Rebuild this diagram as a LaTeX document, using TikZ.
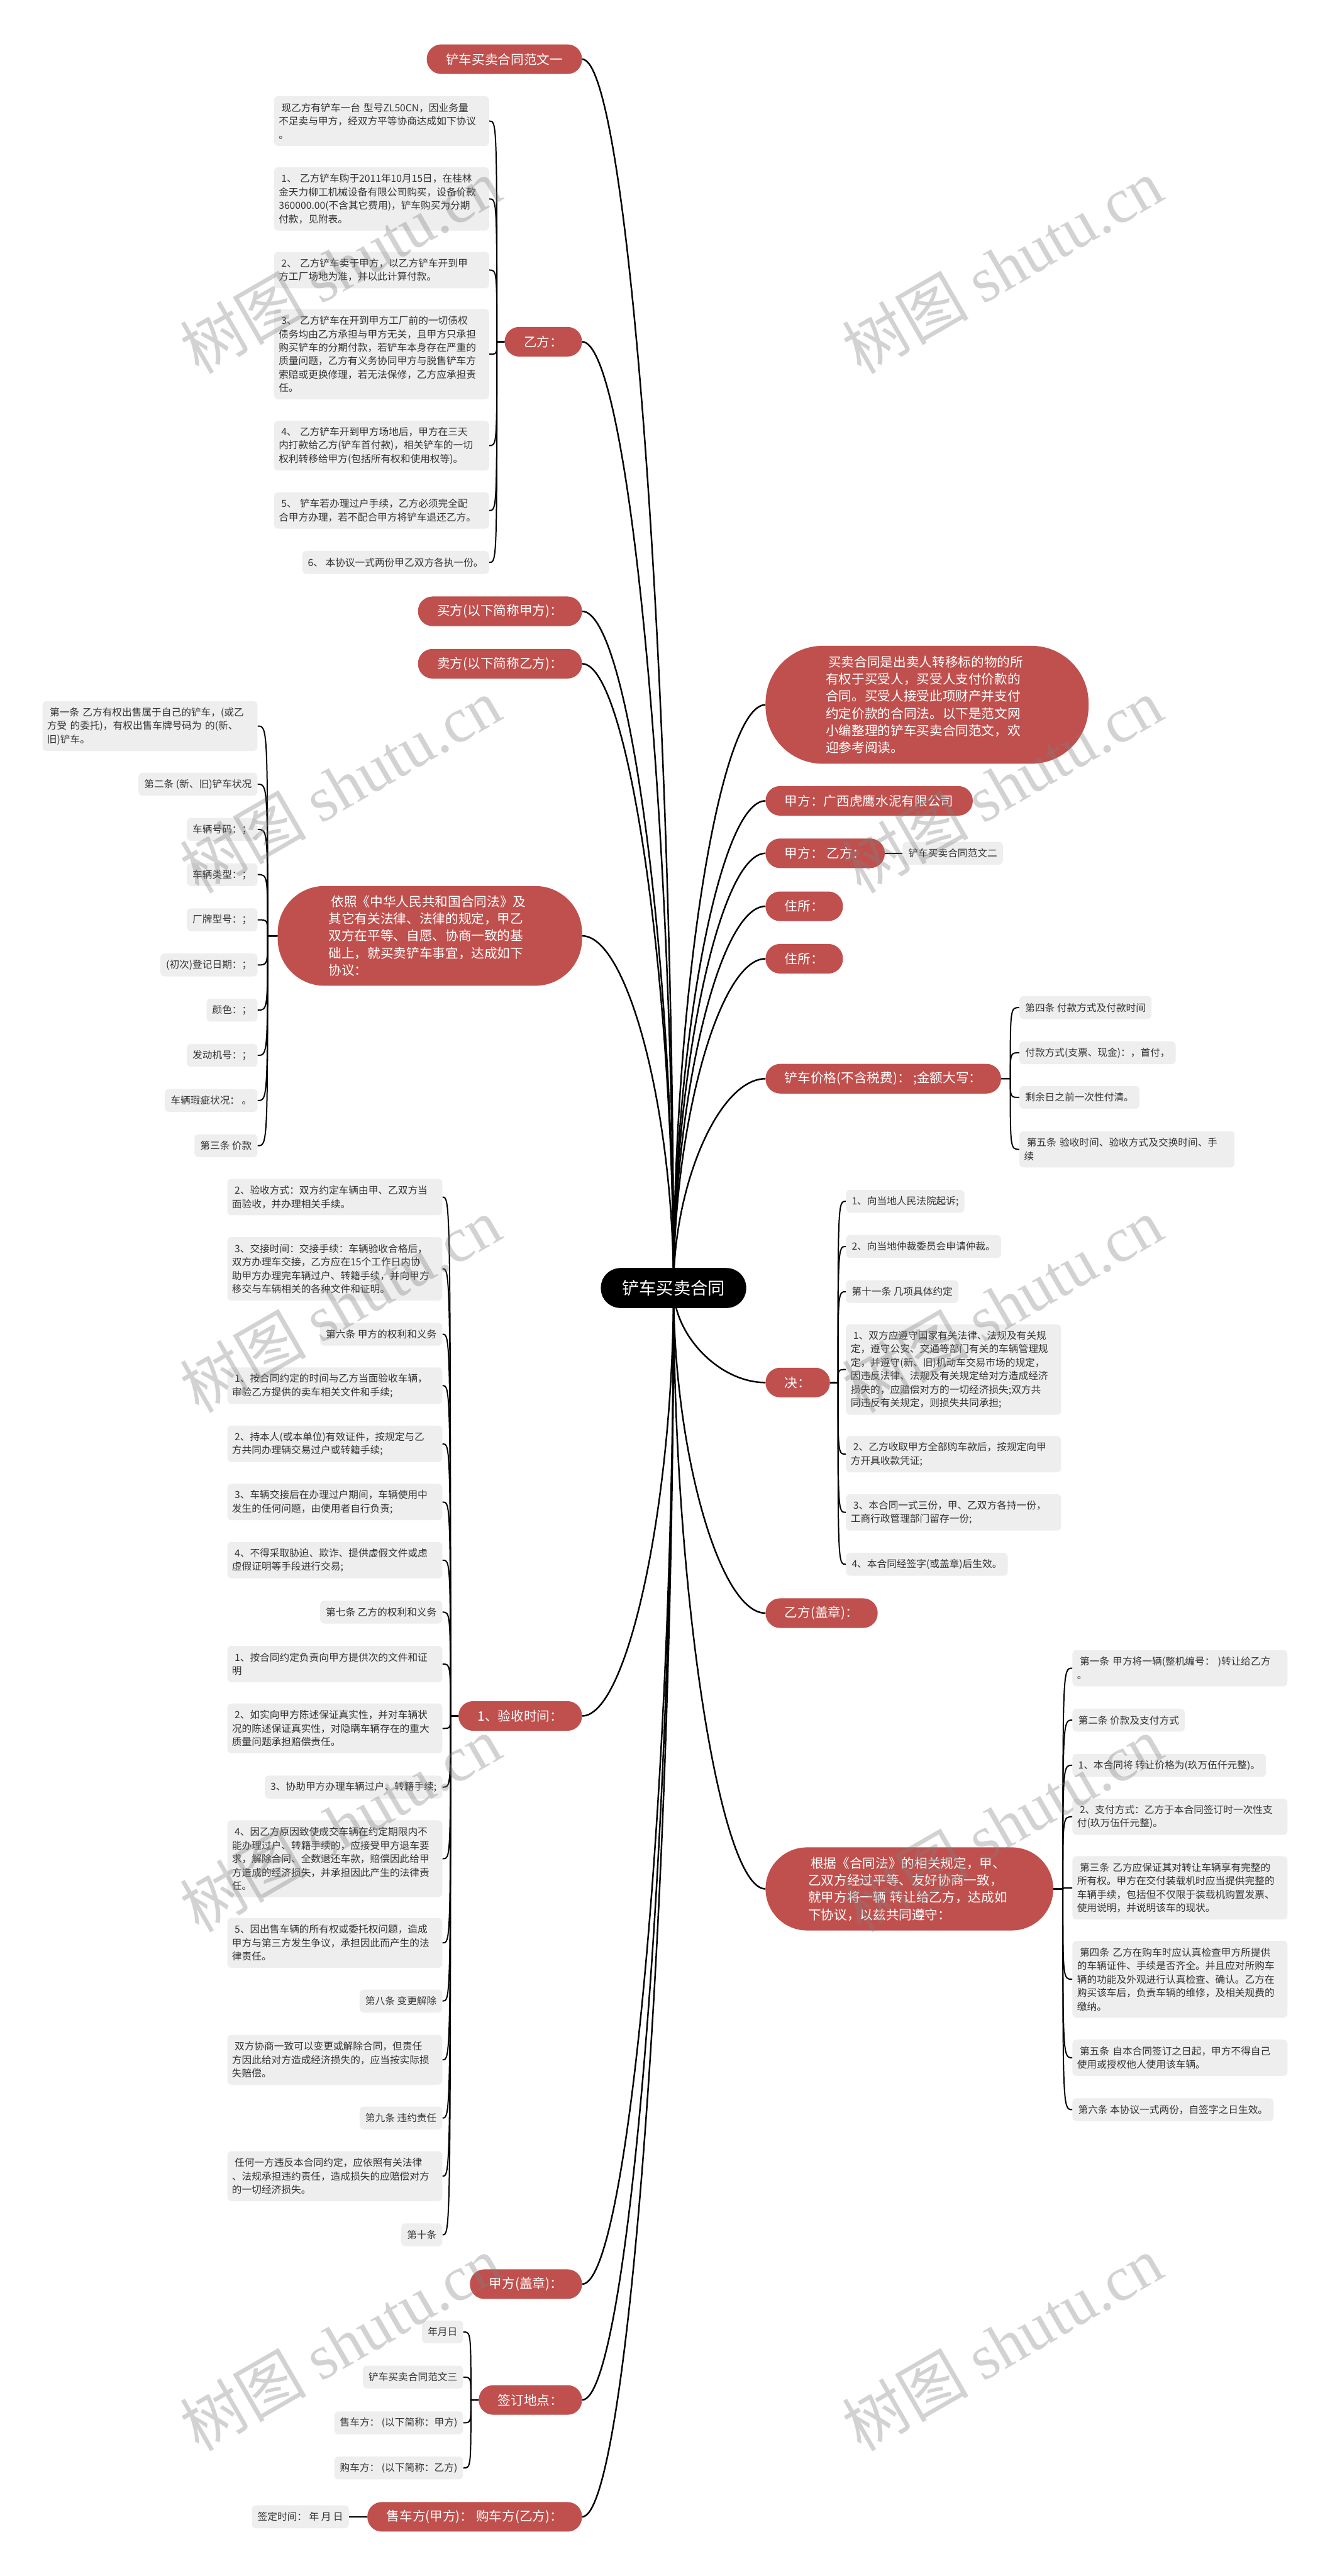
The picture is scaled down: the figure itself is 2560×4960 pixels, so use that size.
\documentclass[tikz,border=0pt]{standalone}
\usepackage{fontspec}
\setmainfont{Noto Sans CJK SC}
\newfontfamily\wmlatin{Liberation Serif}
\usetikzlibrary{calc,backgrounds}
\definecolor{redc}{HTML}{C0504D}
\definecolor{grayc}{HTML}{EEEEEE}
\definecolor{txtc}{HTML}{333333}
\newcommand\myind{\hspace*{5pt}}
\newcommand\rootlink[1]{\draw[rlink] (root.center) .. controls ($(root.center)!0.5!(root.center |- #1)$) and ($(#1)!0.5!(root.center |- #1)$) .. (#1);}
\newcommand\kidl[2]{\coordinate (tmpj) at ($(#1.west)!0.5!(#2.east |- #1.west)$);\draw[clink] (#1.west) -- (tmpj) .. controls (tmpj |- #2.east) .. (#2.east);}
\newcommand\kidr[2]{\coordinate (tmpj) at ($(#1.east)!0.5!(#2.west |- #1.east)$);\draw[clink] (#1.east) -- (tmpj) .. controls (tmpj |- #2.west) .. (#2.west);}
\tikzset{
 rootbox/.style={fill=black,text=white,rounded corners=38pt,minimum width=280pt,minimum height=77pt,inner sep=0pt,font=\fontsize{33}{40}\selectfont},
 rpill/.style={fill=redc,text=white,rounded corners=28pt,minimum height=57pt,inner xsep=37pt,inner ysep=0pt,font=\fontsize{25}{33}\selectfont},
 rbig/.style={rpill,align=left,text width=390pt},
 gbox/.style={fill=grayc,text=txtc,rounded corners=8pt,minimum height=44pt,inner xsep=11pt,inner ysep=0pt,font=\fontsize{19}{26}\selectfont,align=left},
 gwide/.style={gbox,text width=396pt,inner xsep=9pt},
 ln2/.style={minimum height=70pt},
 ln3/.style={minimum height=96pt},
 ln4/.style={minimum height=122pt},
 ln5/.style={minimum height=148pt},
 ln6/.style={minimum height=174pt},
 rlink/.style={draw=black,line width=3pt},
 clink/.style={draw=black,line width=2.4pt},
 wm/.style={text=black!50,text opacity=0.35,font=\fontsize{122}{130}\selectfont,rotate=30,inner sep=0pt},
}
\begin{document}
\begin{tikzpicture}[x=1pt,y=1pt]
\useasboundingbox (0,0) rectangle (2560,-4960);
% root
\node[rootbox] (root) at (1297,-2480) {铲车买卖合同};
% left first level
\node[rpill,anchor=east] (fw1) at (1121,-114) {铲车买卖合同范文一};
\node[rpill,anchor=east] (yf) at (1121,-658) {乙方：};
\node[rpill,anchor=east] (mf) at (1121,-1177) {买方(以下简称甲方)：};
\node[rpill,anchor=east] (sf) at (1121,-1278) {卖方(以下简称乙方)：};
\node[rbig,anchor=east,rounded corners=90pt,minimum height=192pt,inner xsep=98pt] (yz) at (1121,-1802) {\myind 依照《中华人民共和国合同法》及\\其它有关法律、法律的规定，甲乙\\双方在平等、自愿、协商一致的基\\础上，就买卖铲车事宜，达成如下\\协议：};
\node[rpill,anchor=east] (ys) at (1121,-3304) {1、验收时间：};
\node[rpill,anchor=east] (jg) at (1121,-4398) {甲方(盖章)：};
\node[rpill,anchor=east] (qd) at (1121,-4621) {签订地点：};
\node[rpill,anchor=east] (sc) at (1121,-4846) {售车方(甲方)：~购车方(乙方)：};
% right first level
\node[rbig,anchor=west,rounded corners=110pt,minimum height=227pt,inner xsep=116pt] (intro) at (1474,-1357) {\myind 买卖合同是出卖人转移标的物的所\\有权于买受人，买受人支付价款的\\合同。买受人接受此项财产并支付\\约定价款的合同法。以下是范文网\\小编整理的铲车买卖合同范文，欢\\迎参考阅读。};
\node[rpill,anchor=west] (jf) at (1474,-1542) {甲方：广西虎鹰水泥有限公司};
\node[rpill,anchor=west] (jy) at (1474,-1643) {甲方：~乙方：};
\node[gbox,anchor=west] (fw2) at (1738,-1643) {铲车买卖合同范文二};
\node[rpill,anchor=west] (zs1) at (1474,-1745) {住所：};
\node[rpill,anchor=west] (zs2) at (1474,-1846) {住所：};
\node[rpill,anchor=west] (jgp) at (1474,-2077) {铲车价格(不含税费)：~;金额大写：};
\node[rpill,anchor=west] (jue) at (1474,-2662) {决：};
\node[rpill,anchor=west] (yg) at (1474,-3106) {乙方(盖章)：};
\node[rbig,anchor=west,rounded corners=80pt,minimum height=160pt,inner xsep=82pt] (gj) at (1474,-3637) {\myind 根据《合同法》的相关规定，甲、\\乙双方经过平等、友好协商一致，\\就甲方将一辆~转让给乙方，达成如\\下协议，以兹共同遵守：};
% children of yf
\node[gwide,ln3,anchor=east] (y1) at (942,-233) {\myind 现乙方有铲车一台~型号ZL50CN，因业务量\\不足卖与甲方，经双方平等协商达成如下协议\\。};
\node[gwide,ln4,anchor=east] (y2) at (942,-383) {\myind 1、~乙方铲车购于2011年10月15日，在桂林\\金天力柳工机械设备有限公司购买，设备价款\\360000.00(不含其它费用)，铲车购买为分期\\付款，见附表。};
\node[gwide,ln2,anchor=east] (y3) at (942,-520) {\myind 2、~乙方铲车卖于甲方，以乙方铲车开到甲\\方工厂场地为准，并以此计算付款。};
\node[gwide,ln6,anchor=east] (y4) at (942,-682) {\myind 3、~乙方铲车在开到甲方工厂前的一切债权\\债务均由乙方承担与甲方无关，且甲方只承担\\购买铲车的分期付款，若铲车本身存在严重的\\质量问题，乙方有义务协同甲方与脱售铲车方\\索赔或更换修理，若无法保修，乙方应承担责\\任。};
\node[gwide,ln3,anchor=east] (y5) at (942,-858) {\myind 4、~乙方铲车开到甲方场地后，甲方在三天\\内打款给乙方(铲车首付款)，相关铲车的一切\\权利转移给甲方(包括所有权和使用权等)。};
\node[gwide,ln2,anchor=east] (y6) at (942,-983) {\myind 5、~铲车若办理过户手续，乙方必须完全配\\合甲方办理，若不配合甲方将铲车退还乙方。};
\node[gbox,anchor=east] (y7) at (942,-1083) {6、~本协议一式两份甲乙双方各执一份。};
% children of yz
\node[gwide,ln3,anchor=east] (z1) at (496,-1398) {\myind 第一条~乙方有权出售属于自己的铲车，(或乙\\方受~的委托)，有权出售车牌号码为~的(新、\\旧)铲车。};
\node[gbox,anchor=east] (z2) at (496,-1510) {第二条~(新、旧)铲车状况};
\node[gbox,anchor=east] (z3) at (496,-1597) {车辆号码：；};
\node[gbox,anchor=east] (z4) at (496,-1684) {车辆类型：；};
\node[gbox,anchor=east] (z5) at (496,-1771) {厂牌型号：；};
\node[gbox,anchor=east] (z6) at (496,-1858) {(初次)登记日期：；};
\node[gbox,anchor=east] (z7) at (496,-1945) {颜色：；};
\node[gbox,anchor=east] (z8) at (496,-2032) {发动机号：；};
\node[gbox,anchor=east] (z9) at (496,-2119) {车辆瑕疵状况：~。};
\node[gbox,anchor=east] (z10) at (496,-2206) {第三条~价款};
% children of ys
\node[gwide,ln2,anchor=east] (v1) at (852,-2305) {\myind 2、验收方式：双方约定车辆由甲、乙双方当\\面验收，并办理相关手续。};
\node[gwide,ln4,anchor=east] (v2) at (852,-2443) {\myind 3、交接时间：交接手续：车辆验收合格后，\\双方办理车交接，乙方应在15个工作日内协\\助甲方办理完车辆过户、转籍手续，并向甲方\\移交与车辆相关的各种文件和证明。};
\node[gbox,anchor=east] (v3) at (852,-2569) {第六条~甲方的权利和义务};
\node[gwide,ln2,anchor=east] (v4) at (852,-2668) {\myind 1、按合同约定的时间与乙方当面验收车辆，\\审验乙方提供的卖车相关文件和手续;};
\node[gwide,ln2,anchor=east] (v5) at (852,-2780) {\myind 2、持本人(或本单位)有效证件，按规定与乙\\方共同办理辆交易过户或转籍手续;};
\node[gwide,ln2,anchor=east] (v6) at (852,-2892) {\myind 3、车辆交接后在办理过户期间，车辆使用中\\发生的任何问题，由使用者自行负责;};
\node[gwide,ln2,anchor=east] (v7) at (852,-3004) {\myind 4、不得采取胁迫、欺诈、提供虚假文件或虑\\虚假证明等手段进行交易;};
\node[gbox,anchor=east] (v8) at (852,-3104) {第七条~乙方的权利和义务};
\node[gwide,ln2,anchor=east] (v9) at (852,-3204) {\myind 1、按合同约定负责向甲方提供次的文件和证\\明};
\node[gwide,ln3,anchor=east] (v10) at (852,-3328) {\myind 2、如实向甲方陈述保证真实性，并对车辆状\\况的陈述保证真实性，对隐瞒车辆存在的重大\\质量问题承担赔偿责任。};
\node[gbox,anchor=east] (v11) at (852,-3441) {3、协助甲方办理车辆过户、转籍手续;};
\node[gwide,ln5,anchor=east] (v12) at (852,-3579) {\myind 4、因乙方原因致使成交车辆在约定期限内不\\能办理过户、转籍手续的，应接受甲方退车要\\求，解除合同、全数退还车款，赔偿因此给甲\\方造成的经济损失，并承担因此产生的法律责\\任。};
\node[gwide,ln3,anchor=east] (v13) at (852,-3741) {\myind 5、因出售车辆的所有权或委托权问题，造成\\甲方与第三方发生争议，承担因此而产生的法\\律责任。};
\node[gbox,anchor=east] (v14) at (852,-3853) {第八条~变更解除};
\node[gwide,ln3,anchor=east] (v15) at (852,-3966) {\myind 双方协商一致可以变更或解除合同，但责任\\方因此给对方造成经济损失的，应当按实际损\\失赔偿。};
\node[gbox,anchor=east] (v16) at (852,-4078) {第九条~违约责任};
\node[gwide,ln3,anchor=east] (v17) at (852,-4190) {\myind 任何一方违反本合同约定，应依照有关法律\\、法规承担违约责任，造成损失的应赔偿对方\\的一切经济损失。};
\node[gbox,anchor=east] (v18) at (852,-4303) {第十条};
% children of qd
\node[gbox,anchor=east] (q1) at (892,-4490) {年月日};
\node[gbox,anchor=east] (q2) at (892,-4577) {铲车买卖合同范文三};
\node[gbox,anchor=east] (q3) at (892,-4665) {售车方：~(以下简称：甲方)};
\node[gbox,anchor=east] (q4) at (892,-4752) {购车方：~(以下简称：乙方)};
% child of sc
\node[gbox,anchor=east] (s1) at (672,-4846) {签定时间：~年~月~日};
% children of jgp
\node[gbox,anchor=west] (p1) at (1963,-1940) {第四条~付款方式及付款时间};
\node[gbox,anchor=west] (p2) at (1963,-2027) {付款方式(支票、现金)：，首付，};
\node[gbox,anchor=west] (p3) at (1963,-2113) {剩余日之前一次性付清。};
\node[gwide,ln2,anchor=west] (p4) at (1963,-2213) {\myind 第五条~验收时间、验收方式及交换时间、手\\续};
% children of jue
\node[gbox,anchor=west] (j1) at (1629,-2313) {1、向当地人民法院起诉;};
\node[gbox,anchor=west] (j2) at (1629,-2400) {2、向当地仲裁委员会申请仲裁。};
\node[gbox,anchor=west] (j3) at (1629,-2487) {第十一条~几项具体约定};
\node[gwide,ln6,anchor=west] (j4) at (1629,-2637) {\myind 1、双方应遵守国家有关法律、法规及有关规\\定，遵守公安、交通等部门有关的车辆管理规\\定，并遵守(新、旧)机动车交易市场的规定，\\因违反法律、法规及有关规定给对方造成经济\\损失的，应赔偿对方的一切经济损失;双方共\\同违反有关规定，则损失共同承担;};
\node[gwide,ln2,anchor=west] (j5) at (1629,-2800) {\myind 2、乙方收取甲方全部购车款后，按规定向甲\\方开具收款凭证;};
\node[gwide,ln2,anchor=west] (j6) at (1629,-2912) {\myind 3、本合同一式三份，甲、乙双方各持一份，\\工商行政管理部门留存一份;};
\node[gbox,anchor=west] (j7) at (1629,-3012) {4、本合同经签字(或盖章)后生效。};
% children of gj
\node[gwide,ln2,anchor=west] (g1) at (2065,-3212) {\myind 第一条~甲方将一辆(整机编号：~)转让给乙方\\。};
\node[gbox,anchor=west] (g2) at (2065,-3312) {第二条~价款及支付方式};
\node[gbox,anchor=west] (g3) at (2065,-3399) {1、本合同将~转让价格为(玖万伍仟元整)。};
\node[gwide,ln2,anchor=west] (g4) at (2065,-3498) {\myind 2、支付方式：乙方于本合同签订时一次性支\\付(玖万伍仟元整)。};
\node[gwide,ln4,anchor=west] (g5) at (2065,-3635) {\myind 第三条~乙方应保证其对转让车辆享有完整的\\所有权。甲方在交付装载机时应当提供完整的\\车辆手续，包括但不仅限于装载机购置发票、\\使用说明，并说明该车的现状。};
\node[gwide,ln5,anchor=west] (g6) at (2065,-3811) {\myind 第四条~乙方在购车时应认真检查甲方所提供\\的车辆证件、手续是否齐全。并且应对所购车\\辆的功能及外观进行认真检查、确认。乙方在\\购买该车后，负责车辆的维修，及相关规费的\\缴纳。};
\node[gwide,ln2,anchor=west] (g7) at (2065,-3962) {\myind 第五条~自本合同签订之日起，甲方不得自己\\使用或授权他人使用该车辆。};
\node[gbox,anchor=west] (g8) at (2065,-4062) {第六条~本协议一式两份，自签字之日生效。};
% connectors
\begin{pgfonlayer}{background}
\fill[white] (0,0) rectangle (2560,-4960);
\rootlink{fw1.east}
\rootlink{yf.east}
\rootlink{mf.east}
\rootlink{sf.east}
\rootlink{yz.east}
\rootlink{ys.east}
\rootlink{jg.east}
\rootlink{qd.east}
\rootlink{sc.east}
\rootlink{intro.west}
\rootlink{jf.west}
\rootlink{jy.west}
\rootlink{zs1.west}
\rootlink{zs2.west}
\rootlink{jgp.west}
\rootlink{jue.west}
\rootlink{yg.west}
\rootlink{gj.west}
\foreach \c in {y1,y2,y3,y4,y5,y6,y7} {\kidl{yf}{\c}}
\foreach \c in {z1,z2,z3,z4,z5,z6,z7,z8,z9,z10} {\kidl{yz}{\c}}
\foreach \c in {v1,v2,v3,v4,v5,v6,v7,v8,v9,v10,v11,v12,v13,v14,v15,v16,v17,v18} {\kidl{ys}{\c}}
\foreach \c in {q1,q2,q3,q4} {\kidl{qd}{\c}}
\foreach \c in {p1,p2,p3,p4} {\kidr{jgp}{\c}}
\foreach \c in {j1,j2,j3,j4,j5,j6,j7} {\kidr{jue}{\c}}
\foreach \c in {g1,g2,g3,g4,g5,g6,g7,g8} {\kidr{gj}{\c}}
\draw[clink,line width=3pt] (jy.east) -- (fw2.west);
\draw[clink,line width=3pt] (sc.west) -- (s1.east);
\end{pgfonlayer}
% watermarks
\foreach \i/\yy in {1/512,2/1512,3/2512,4/3512,5/4512} {
 \node[wm] (wl\i) at (655,-\yy) {树图~{\wmlatin shutu.cn}};
 \node[wm] (wr\i) at (1930,-\yy) {树图~{\wmlatin shutu.cn}};
}
\end{tikzpicture}
\end{document}
